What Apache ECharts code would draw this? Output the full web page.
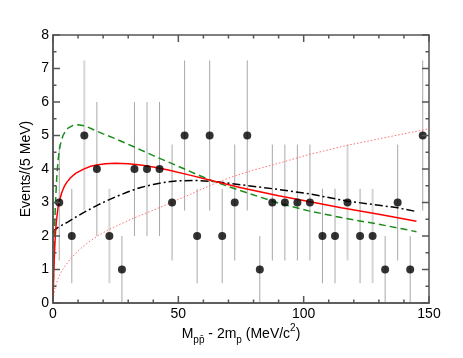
<!DOCTYPE html>
<html>
<head>
<meta charset="utf-8">
<script src="https://cdn.jsdelivr.net/npm/echarts@6/dist/echarts.min.js"></script>
<style>
  html, body { margin: 0; padding: 0; background: #fff; }
  #main { width: 463px; height: 358px; }
</style>
</head>
<body>
<div id="main"></div>
<script>
// bin centres (MeV/c^2) and event counts
const binCenters = [2.5, 7.5, 12.5, 17.5, 22.5, 27.5, 32.5, 37.5, 42.5, 47.5,
  52.5, 57.5, 62.5, 67.5, 72.5, 77.5, 82.5, 87.5, 92.5, 97.5,
  102.5, 107.5, 112.5, 117.5, 122.5, 127.5, 132.5, 137.5, 142.5, 147.5]
const counts = [3, 2, 5, 4, 2, 1, 4, 4, 4, 3,
  5, 2, 5, 2, 3, 5, 1, 3, 3, 3,
  3, 2, 2, 3, 2, 2, 1, 3, 1, 5]
// error bar ends
const errLow = [1.27, 0.59, 2.76, 2, 0.59, 0, 2, 2, 2, 1.27,
  2.76, 0.59, 2.76, 0.59, 1.27, 2.76, 0, 1.27, 1.27, 1.27,
  1.27, 0.59, 0.59, 1.27, 0.59, 0.59, 0, 1.27, 0, 2.76]
const errHigh = [4.73, 3.41, 7.24, 6, 3.41, 2, 6, 6, 6, 4.73,
  7.24, 3.41, 7.24, 3.41, 4.73, 7.24, 2, 4.73, 4.73, 4.73,
  4.73, 3.41, 3.41, 4.73, 3.41, 3.41, 2, 4.73, 2, 7.24]
const lightBars = [2, 4, 23, 25]

// fit curves
const greenDashed = [[0, 0], [0.25, 1.0], [0.5, 1.8], [0.75, 2.5], [1, 3.0], [1.5, 3.75], [2, 4.25], [2.5, 4.55],
  [3, 4.75], [4, 5.0], [5, 5.13], [6, 5.22], [8, 5.3], [10, 5.32], [13, 5.28], [16, 5.18], [20, 5.05],
  [25, 4.9], [32, 4.67], [40, 4.4], [50, 4.08], [57, 3.85], [64, 3.63], [75, 3.35], [90, 2.98],
  [102, 2.75], [115, 2.55], [130, 2.35], [145, 2.13]]
const redSolid = [[0, 0], [0.15, 0.5], [0.3, 0.9], [0.5, 1.3], [0.7, 1.65], [1, 2.1], [1.3, 2.4], [2, 2.85],
  [2.7, 3.08], [3.5, 3.3], [4.5, 3.48], [5.5, 3.6], [7, 3.74], [9, 3.87], [12, 3.99], [15, 4.08],
  [18, 4.13], [21, 4.16], [25, 4.17], [30, 4.16], [35, 4.12], [40, 4.06], [46, 3.97], [55, 3.81],
  [64, 3.64], [75, 3.44], [90, 3.2], [102, 3.03], [115, 2.84], [130, 2.65], [145, 2.44]]
const blackDashDot = [[0, 2.1], [0.5, 2.17], [1, 2.21], [2, 2.26], [3, 2.3], [6, 2.42], [9, 2.56], [12, 2.69],
  [15, 2.81], [18, 2.93], [22, 3.07], [26, 3.2], [30, 3.32], [35, 3.45], [40, 3.54], [46, 3.62],
  [51, 3.65], [56, 3.66], [64, 3.63], [75, 3.53], [90, 3.39], [102, 3.26],
  [117.5, 3.04], [130, 2.92], [137.5, 2.84], [145, 2.73]]
const redDotted = [[0, 0], [0.3, 0.25], [0.8, 0.45], [1.5, 0.62], [2.7, 0.85], [4.5, 1.08], [6.7, 1.29],
  [9, 1.48], [12, 1.69], [15, 1.86], [18, 2.01], [22, 2.18], [25.3, 2.3], [30, 2.46], [35, 2.62],
  [40, 2.77], [46.5, 2.98], [55, 3.25], [64, 3.55], [70.5, 3.74], [80, 3.97], [90, 4.17],
  [102, 4.43], [117, 4.7], [130, 4.9], [140, 5.05], [150, 5.2]]

// tick values for the frame (drawn on all four sides)
const xMajorTicks = [0, 50, 100, 150]
const xMinorTicks = [10, 20, 30, 40, 60, 70, 80, 90, 110, 120, 130, 140]
const yMajorTicks = [0, 1, 2, 3, 4, 5, 6, 7, 8]
const yMinorTicks = [0.5, 1.5, 2.5, 3.5, 4.5, 5.5, 6.5, 7.5]

const font = 'Liberation Sans'
const axisGray = '#555'

function axisCommon() {
  return {
    axisLine: { show: true, onZero: false, lineStyle: { color: axisGray, width: 1.5 } },
    axisTick: { show: false },
    splitLine: { show: false },
    axisLabel: { show: true, fontFamily: font, fontSize: 14, color: '#000', margin: 4 }
  }
}

// box plus inward ticks, placed through the axes' own scales
function renderFrame(params, api) {
  const lo = api.coord([0, 0])
  const hi = api.coord([150, 8])
  const children = [{
    type: 'rect',
    shape: { x: lo[0], y: hi[1], width: hi[0] - lo[0], height: lo[1] - hi[1] },
    style: { fill: 'none', stroke: axisGray, lineWidth: 1.5 }
  }]
  function xTick(v, len) {
    const px = api.coord([v, 0])[0]
    children.push({ type: 'line', shape: { x1: px, y1: lo[1], x2: px, y2: lo[1] - len }, style: { stroke: axisGray, lineWidth: 1.5 } })
    children.push({ type: 'line', shape: { x1: px, y1: hi[1], x2: px, y2: hi[1] + len }, style: { stroke: axisGray, lineWidth: 1.5 } })
  }
  function yTick(v, len) {
    const py = api.coord([0, v])[1]
    children.push({ type: 'line', shape: { x1: lo[0], y1: py, x2: lo[0] + len, y2: py }, style: { stroke: axisGray, lineWidth: 1.5 } })
    children.push({ type: 'line', shape: { x1: hi[0], y1: py, x2: hi[0] - len, y2: py }, style: { stroke: axisGray, lineWidth: 1.5 } })
  }
  xMajorTicks.forEach(v => xTick(v, 7))
  xMinorTicks.forEach(v => xTick(v, 3.5))
  yMajorTicks.forEach(v => yTick(v, 7))
  yMinorTicks.forEach(v => yTick(v, 3.5))
  return { type: 'group', children: children }
}

const chart = echarts.init(document.getElementById('main'))
chart.setOption({
  animation: false,
  grid: { left: 53, right: 34, top: 35, bottom: 55 },
  xAxis: Object.assign(axisCommon(), { type: 'value', min: 0, max: 150, interval: 50 }),
  yAxis: Object.assign(axisCommon(), { type: 'value', min: 0, max: 8, interval: 1 }),
  graphic: [
    {
      type: 'text', x: 241, y: 334,
      style: {
        text: '{n|M}{s|pp\u0304}{n| - 2m}{s|p}{n| (MeV/c}{u|2}{n|)}',
        align: 'center', verticalAlign: 'middle',
        rich: {
          n: { fontFamily: font, fontSize: 14, fill: '#000', lineHeight: 22, verticalAlign: 'middle' },
          s: { fontFamily: font, fontSize: 10, fill: '#000', lineHeight: 22, verticalAlign: 'bottom' },
          u: { fontFamily: font, fontSize: 10, fill: '#000', lineHeight: 22, verticalAlign: 'top' }
        }
      }
    },
    {
      type: 'text', x: 26, y: 169, rotation: Math.PI / 2,
      style: {
        text: 'Events/(5 MeV)', fontFamily: font, fontSize: 14, fill: '#000',
        align: 'center', verticalAlign: 'middle'
      }
    }
  ],
  series: [
    {
      type: 'custom',
      data: binCenters.map((x, i) => [x, errLow[i], errHigh[i]]),
      renderItem: function (params, api) {
        const p1 = api.coord([api.value(0), api.value(1)])
        const p2 = api.coord([api.value(0), api.value(2)])
        const light = lightBars.indexOf(params.dataIndex) >= 0
        return {
          type: 'line',
          shape: { x1: p1[0], y1: p1[1], x2: p2[0], y2: p2[1] },
          style: { stroke: light ? '#d6d6d6' : '#a8a8a8', lineWidth: light ? 2 : 1 }
        }
      },
      z: 1
    },
    {
      type: 'line', data: redDotted, showSymbol: false,
      lineStyle: { color: '#ff7070', width: 1, type: [1.5, 2] }, z: 2
    },
    {
      type: 'line', data: blackDashDot, showSymbol: false,
      lineStyle: { color: '#000', width: 1.5, type: [8, 3, 2, 3] }, z: 3
    },
    {
      type: 'line', data: greenDashed, showSymbol: false,
      lineStyle: { color: '#1a8c1a', width: 1.5, type: [7, 4] }, z: 3
    },
    {
      type: 'line', data: redSolid, showSymbol: false,
      lineStyle: { color: '#ff0000', width: 1.5 }, z: 4
    },
    {
      type: 'scatter', data: binCenters.map((x, i) => [x, counts[i]]),
      symbol: 'circle', symbolSize: 8, itemStyle: { color: '#000' }, z: 5
    },
    {
      type: 'custom', data: [[0, 0]], renderItem: renderFrame, silent: true, z: 6
    }
  ]
})
</script>
</body>
</html>
